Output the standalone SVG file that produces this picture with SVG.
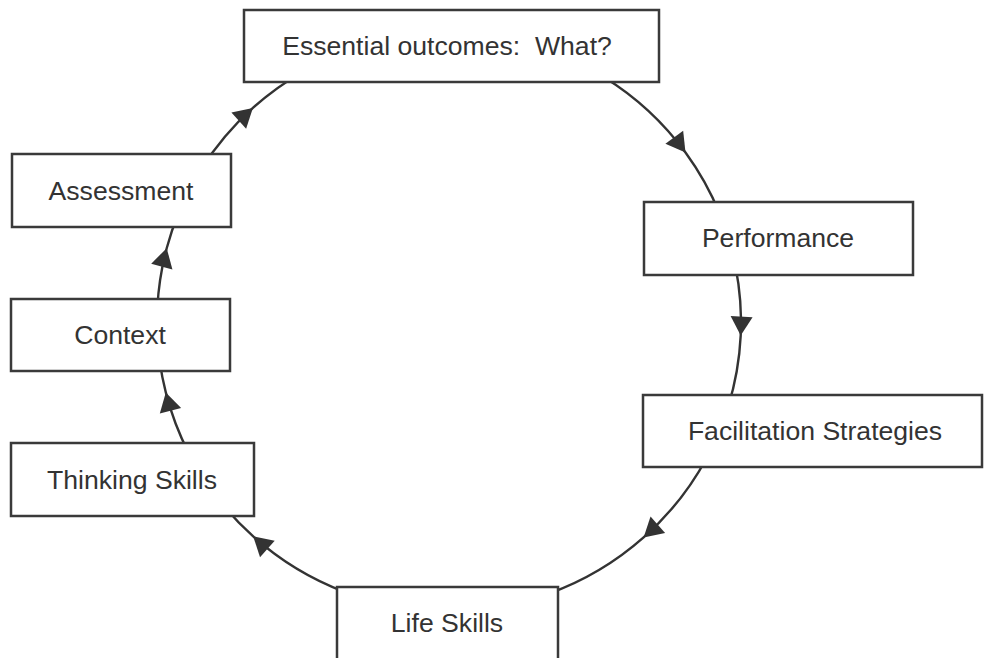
<svg xmlns="http://www.w3.org/2000/svg" width="984" height="658" viewBox="0 0 984 658">
  <style>
    .box rect { fill: #ffffff; stroke: #3a3a3a; stroke-width: 2.5; }
    .box text { font-family: "Liberation Sans", Arial, sans-serif; font-size: 26.6px; fill: #333333; text-anchor: middle; white-space: pre; }
    .conn path { fill: none; stroke: #333333; stroke-width: 2.4; marker-mid: url(#arrow); }
  </style>
  <defs>
    <marker id="arrow" markerUnits="userSpaceOnUse" markerWidth="22" markerHeight="24" refX="19" refY="11" orient="auto" overflow="visible">
      <path d="M0,0 L19,11 L0,22 Z" fill="#333333"/>
    </marker>
  </defs>
  <rect width="984" height="658" fill="#ffffff"/>

  <!-- cycle of arcs on one ellipse (centre 449,322), clockwise -->
  <g id="connectors" class="conn">
    <path d="M603.7,76.9 A292,289 0 0 1 685.5,152.5 A292,289 0 0 1 719.7,213.7"/>
    <path d="M735.6,266.9 A292,289 0 0 1 740.7,335.6 A292,289 0 0 1 728.2,406.5"/>
    <path d="M706.8,457.7 A292,289 0 0 1 643.6,537.4 A292,289 0 0 1 548.9,593.6"/>
    <path d="M344.3,591.8 A292,289 0 0 1 253.2,536.4 A292,289 0 0 1 222.1,503.9"/>
    <path d="M188.8,453.2 A292,289 0 0 1 165.8,392.4 A292,289 0 0 1 159.8,362.2"/>
    <path d="M157.4,306.9 A292,289 0 0 1 166.7,248.2 A292,289 0 0 1 178.3,213.7"/>
    <path d="M201.4,168.9 A292,289 0 0 1 252.9,107.9 A292,289 0 0 1 303,71.7"/>
  </g>

  <g id="essential-outcomes" class="box">
    <rect x="244" y="10" width="415" height="72"/>
    <text x="447" y="55">Essential outcomes:  What?</text>
  </g>
  <g id="performance" class="box">
    <rect x="644" y="202" width="269" height="73"/>
    <text x="778" y="247">Performance</text>
  </g>
  <g id="facilitation-strategies" class="box">
    <rect x="643" y="395" width="339" height="72"/>
    <text x="815" y="440">Facilitation Strategies</text>
  </g>
  <g id="life-skills" class="box">
    <rect x="337" y="587" width="221" height="85"/>
    <text x="447" y="632">Life Skills</text>
  </g>
  <g id="thinking-skills" class="box">
    <rect x="11" y="443" width="243" height="73"/>
    <text x="132" y="489">Thinking Skills</text>
  </g>
  <g id="context" class="box">
    <rect x="11" y="299" width="219" height="72"/>
    <text x="120" y="344">Context</text>
  </g>
  <g id="assessment" class="box">
    <rect x="12" y="154" width="219" height="73"/>
    <text x="121" y="200">Assessment</text>
  </g>
</svg>
